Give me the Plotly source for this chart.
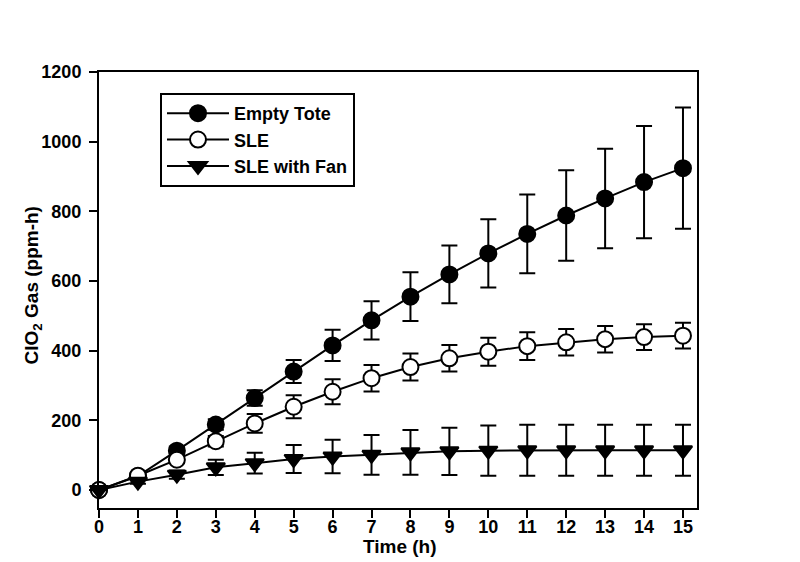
import plotly.graph_objects as go

time_h = list(range(16))

empty_tote = [0, 40, 113, 188, 264, 340, 415, 487, 555, 619, 679, 735, 788, 837, 884, 924]
empty_tote_err = [0, 8, 12, 15, 22, 33, 45, 55, 70, 83, 98, 113, 130, 143, 161, 174]

sle = [0, 41, 87, 140, 191, 239, 282, 321, 353, 378, 397, 413, 424, 433, 439, 443]
sle_err = [0, 6, 10, 15, 27, 33, 36, 38, 39, 38, 40, 40, 38, 38, 37, 37]

sle_fan = [0, 24, 44, 65, 77, 89, 96, 101, 108, 111, 113, 114, 114, 114, 114, 114]
sle_fan_err = [0, 6, 12, 22, 30, 40, 48, 57, 64, 68, 72, 73, 73, 73, 73, 73]

series_names = ["Empty Tote", "SLE", "SLE with Fan"]
y_ticks = [0, 200, 400, 600, 800, 1000, 1200]
x_title = "Time (h)"
y_title = "ClO<sub>2</sub> Gas (ppm-h)"

FONT = "Arial, Liberation Sans, Helvetica, sans-serif"

fig = go.Figure()

def add(name, y, err, symbol, fill):
    fig.add_trace(go.Scatter(
        x=time_h, y=y, name=name, mode="lines+markers",
        line=dict(color="black", width=2),
        marker=dict(symbol=symbol, size=16, color=fill,
                    line=dict(color="black", width=2)),
        error_y=dict(type="data", array=err, visible=True,
                     color="black", thickness=2, width=8),
        cliponaxis=False,
    ))

add(series_names[0], empty_tote, empty_tote_err, "circle", "black")
add(series_names[1], sle, sle_err, "circle", "white")
add(series_names[2], sle_fan, sle_fan_err, "triangle-down", "black")

axis_common = dict(
    showline=True, linecolor="black", linewidth=2, mirror=True,
    ticks="outside", ticklen=8, tickwidth=2, tickcolor="black",
    showgrid=False, zeroline=False, automargin=False,
    tickfont=dict(family=FONT, size=18, color="black", weight="bold"),
)

fig.update_xaxes(range=[0, 15.36], tickmode="array", tickvals=time_h,
                 ticklabelstandoff=-7, **axis_common)
fig.update_yaxes(range=[-51.7, 1200], tickmode="array", tickvals=y_ticks,
                 ticklabelstandoff=4, **axis_common)

title_font = dict(family=FONT, size=19, color="black", weight="bold")
fig.add_annotation(text=x_title, xref="paper", yref="paper", x=0.503, y=-0.089,
                   xanchor="center", yanchor="middle", showarrow=False, font=title_font)
fig.add_annotation(text=y_title, xref="paper", yref="paper", x=-0.110, y=0.511,
                   xanchor="center", yanchor="middle", showarrow=False, textangle=-90,
                   font=title_font)

fig.update_layout(
    template="none",
    width=800, height=562,
    margin=dict(l=91, r=111, t=64, b=62),
    paper_bgcolor="white", plot_bgcolor="white",
    showlegend=True,
    legend=dict(
        x=0.102, y=0.952, xanchor="left", yanchor="top",
        bordercolor="black", borderwidth=2, bgcolor="white",
        font=dict(family=FONT, size=18, color="black", weight="bold"),
        tracegroupgap=0, itemwidth=62, entrywidth=142, entrywidthmode="pixels",
    ),
)

fig.write_html("out.html")
